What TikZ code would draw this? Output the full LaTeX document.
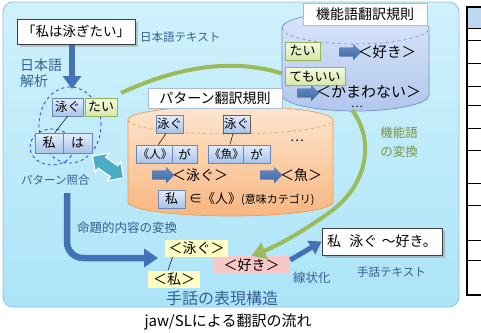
\documentclass[tikz,border=0pt]{standalone}
\usepackage{fontspec}
\setmainfont{Noto Sans CJK JP}
\usetikzlibrary{shapes.arrows,shapes.geometric,shadows,arrows.meta}
\definecolor{lbl}{RGB}{55,96,146}
\definecolor{arrblue}{RGB}{68,114,180}
\definecolor{olivegr}{RGB}{155,187,89}
\definecolor{olivetxt}{RGB}{120,150,65}
\definecolor{tealc}{RGB}{75,172,198}
\definecolor{bgtop}{RGB}{208,241,252}
\definecolor{bgbot}{RGB}{172,228,248}
\definecolor{bgborder}{RGB}{140,195,222}
\definecolor{wbtop}{RGB}{228,238,252}
\definecolor{wbbot}{RGB}{168,195,232}
\definecolor{wbborder}{RGB}{105,135,185}
\definecolor{selborder}{RGB}{110,90,80}
\definecolor{gbtop}{RGB}{243,250,222}
\definecolor{gbbot}{RGB}{214,232,168}
\definecolor{gbborder}{RGB}{150,180,90}
\definecolor{ylw}{RGB}{255,255,196}
\definecolor{pnk}{RGB}{248,200,200}
\definecolor{orgtop}{RGB}{253,230,208}
\definecolor{orgbot}{RGB}{248,182,128}
\definecolor{orgborder}{RGB}{238,155,85}
\definecolor{cyltop}{RGB}{218,230,250}
\definecolor{cylbot}{RGB}{176,198,236}
\definecolor{cylborder}{RGB}{115,145,200}
\definecolor{titleborder}{RGB}{170,190,210}
\definecolor{tblhead}{RGB}{190,215,240}
\newcommand\myfs[1]{\fontsize{#1}{#1}\selectfont}
\newcommand\mycyl[7]{%
  \pgfmathsetmacro\cyCx{(#1+#2)/2}%
  \pgfmathsetmacro\cyKx{0.5523*(#2-#1)/2}%
  \pgfmathsetmacro\cyKy{0.5523*#5}%
  \path[#6] (#1,#3) -- (#1,#4)
    .. controls (#1,{#4+\cyKy}) and ({\cyCx-\cyKx},{#4+#5}) .. (\cyCx,{#4+#5})
    .. controls ({\cyCx+\cyKx},{#4+#5}) and (#2,{#4+\cyKy}) .. (#2,#4)
    -- (#2,#3)
    .. controls (#2,{#3-\cyKy}) and ({\cyCx+\cyKx},{#3-#5}) .. (\cyCx,{#3-#5})
    .. controls ({\cyCx-\cyKx},{#3-#5}) and (#1,{#3-\cyKy}) .. (#1,#3) -- cycle;
  \draw[#7] (#1,#3)
    .. controls (#1,{#3+\cyKy}) and ({\cyCx-\cyKx},{#3+#5}) .. (\cyCx,{#3+#5})
    .. controls ({\cyCx+\cyKx},{#3+#5}) and (#2,{#3+\cyKy}) .. (#2,#3);
}
\begin{document}
\begin{tikzpicture}[x=1pt,y=-1pt,
  every node/.style={inner sep=1pt},
  lbltxt/.style={text=lbl, anchor=west},
  wbox/.style={rectangle, draw=wbborder, line width=0.6pt, top color=wbtop, bottom color=wbbot, minimum height=18, font=\myfs{12.5}},
  gbox/.style={rectangle, draw=gbborder, line width=0.6pt, top color=gbtop, bottom color=gbbot, minimum height=18, font=\myfs{13}},
  whitebox/.style={rectangle, draw=black!75, line width=0.7pt, fill=white, drop shadow={shadow xshift=2.5pt, shadow yshift=-2.5pt, opacity=.4}},
  titlebox/.style={rectangle, draw=titleborder, line width=0.6pt, fill=white, font=\myfs{14}},
  ybox/.style={rectangle, fill=ylw, minimum height=17, font=\myfs{14}},
  pbox/.style={rectangle, fill=pnk, minimum height=18, font=\myfs{14}},
  blockarr/.style={single arrow, single arrow head extend=3.5pt, inner xsep=0pt, inner ysep=4.5pt, minimum height=22pt, top color=arrblue!80!white, bottom color=arrblue!90!black},
  greenline/.style={draw=olivegr, line width=4pt},
  bluearr/.style={draw=arrblue, line width=6.5pt, -{Triangle[length=14pt,width=18pt]}},
  grp/.style={ellipse, draw=blue!80!white, dashed, line width=0.8pt},
  tie/.style={draw=black, line width=0.5pt},
]
\useasboundingbox (0,0) rectangle (481,332);

% background panel
\path[draw=bgborder, top color=bgtop, bottom color=bgbot, rounded corners=10pt, line width=0.8pt] (3,2) rectangle (459,307);

% table fragment at the right edge
\fill[tblhead] (467,7) rectangle (484,28);
\draw[line width=1.3pt] (467,7) rectangle (485,295);
\foreach \yy in {28,40,63,86,105,128,150,183,205,240,260}
  \draw[line width=0.9pt] (467,\yy) -- (485,\yy);

% green curve (behind the function-word cylinder)
\coordinate (g1s) at (121,93);
\coordinate (g1e) at (292,77);
\draw[greenline] (g1s) .. controls (175,68) and (235,55) .. (g1e);

% pattern rule cylinder
\mycyl{128}{333}{120}{202}{14}{draw=orgborder, line width=0.7pt, top color=orgtop, bottom color=orgbot}{draw=orgborder, dashed, line width=0.6pt}
% function word rule cylinder
\mycyl{282}{429}{28}{95}{16}{draw=cylborder, line width=0.7pt, top color=cyltop, bottom color=cylbot}{draw=cylborder, dashed, line width=0.6pt}

\node[titlebox, minimum width=134, minimum height=20] (pt) at (215,98) {パターン翻訳規則};
\node[titlebox, minimum width=124, minimum height=22] (ft) at (365,14) {機能語翻訳規則};

% Japanese input
\node[whitebox, minimum width=118, minimum height=25, font=\myfs{13.5}] (jt) at (76,31.5) {「私は泳ぎたい」};
\node[lbltxt, font=\myfs{11.5}] (jtl) at (139,37) {日本語テキスト};
\node[text=lbl, align=left, font=\fontsize{14}{16}\selectfont] (jp) at (41,73) {日本語\\解析};
\coordinate (da0) at (72,45);
\coordinate (da1) at (72,89);
\draw[draw=arrblue, line width=6.5pt, -{Triangle[length=13pt,width=18pt]}] (da0) -- (da1);

% parsed structure
\node[grp, minimum width=62, minimum height=76] (e1) at (70,125) {};
\node[grp, minimum width=44, minimum height=36] (e2) at (52,147) {};
\node[wbox, minimum width=31] (w1) at (67.5,107) {泳ぐ};
\node[gbox, minimum width=32] (w2) at (101,107) {たい};
\node[wbox, minimum width=28, minimum height=20, font=\myfs{13}] (w3) at (49,143) {私};
\node[wbox, minimum width=29, minimum height=20, font=\myfs{13}] (w4) at (77.5,143) {は};
\draw[tie] (w1.south) -- (w3.60);

\node[double arrow, double arrow head extend=5pt, inner xsep=0pt, inner ysep=6pt, minimum height=38pt, fill=tealc, draw=white, line width=1.2pt, rotate=-35] (dbl) at (108,167) {};
\node[lbltxt, font=\myfs{11.5}] (pm) at (20,180) {パターン照合};

% pattern rules content
\node[wbox, minimum width=26] (o1) at (169.5,124) {泳ぐ};
\node[wbox, minimum width=27, draw=selborder, line width=0.9pt] (o2) at (236.5,124) {泳ぐ};
\node[wbox, minimum width=34, font=\myfs{11.5}] (o3) at (155,154) {《人》};
\node[wbox, minimum width=25] (o4) at (184.5,154) {が};
\node[wbox, minimum width=33, font=\myfs{11.5}] (o5) at (226.5,154) {《魚》};
\node[wbox, minimum width=27] (o6) at (256.5,154) {が};
\draw[tie] (o1.250) -- (o3.70);
\draw[tie] (o2.250) -- (o5.70);
\node[font=\myfs{13}] (od) at (297,141) {…};
\node[blockarr] (oa1) at (161,175) {};
\node[anchor=west, font=\myfs{14}] (ot1) at (171,175) {＜泳ぐ＞};
\node[blockarr] (oa2) at (269,175) {};
\node[anchor=west, font=\myfs{14}] (ot2) at (279,175) {＜魚＞};
\node[wbox, minimum width=27, font=\myfs{13}] (o7) at (171.5,199) {私};
\node[anchor=west] (o8) at (188,199) {\myfs{13}∈《人》\myfs{11}(意味カテゴリ)};

% function word rules content
\node[gbox, minimum width=35] (f1) at (302.5,51) {たい};
\node[blockarr] (fa1) at (348,52) {};
\node[anchor=west, font=\myfs{14.5}] (ft1) at (357,52) {＜好き＞};
\node[gbox, minimum width=60] (f2) at (315,76.5) {てもいい};
\node[blockarr] (fa2) at (306,93) {};
\node[anchor=west, font=\myfs{15}] (ft2) at (315,92) {＜かまわない＞};
\node[font=\myfs{11}] (fd) at (357,107) {…};
\node[text=olivetxt, align=left, font=\fontsize{12.5}{19}\selectfont] (fl) at (399,142) {機能語\\の変換};

% sign language structure
\node[pbox, minimum width=77] (pk) at (251.5,265) {＜好き＞};
\node[ybox, minimum width=63] (y1) at (196.5,248.5) {＜泳ぐ＞};
\node[ybox, minimum width=52] (y2) at (174,279) {＜私＞};
\draw[tie] (y1.200) -- (y2.125);

\coordinate (g2s) at (352,110);
\draw[greenline, -{Triangle[length=14pt,width=17pt]}] (g2s) .. controls (375,140) and (368,185) .. (330,212) .. controls (300,234) and (272,248) .. (pk.north);

\coordinate (b1) at (67,193);
\coordinate (b2) at (67,258);
\coordinate (b3) at (158,258);
\draw[bluearr, rounded corners=16pt] (b1) -- (b2) -- (b3);
\node[lbltxt, font=\myfs{12.5}] (pc) at (76,228) {命題的内容の変換};

\node[whitebox, minimum width=120, minimum height=27, font=\myfs{14}] (out) at (382,241.5) {私\hspace{0.6em}泳ぐ\hspace{0.3em}～好き。};
\draw[draw=arrblue, line width=5pt, -{Triangle[length=12pt,width=15pt]}] ([yshift=5pt]pk.east) -- (out.west);

\node[lbltxt, font=\myfs{12.5}] (lin) at (292,278) {線状化};
\node[lbltxt, font=\myfs{11.5}] (st) at (356,272) {手話テキスト};
\node[lbltxt, font=\myfs{16}] (ss) at (165,298) {手話の表現構造};
\node[font=\myfs{15}] (cap) at (228,322) {jaw/SLによる翻訳の流れ};
\end{tikzpicture}
\end{document}
